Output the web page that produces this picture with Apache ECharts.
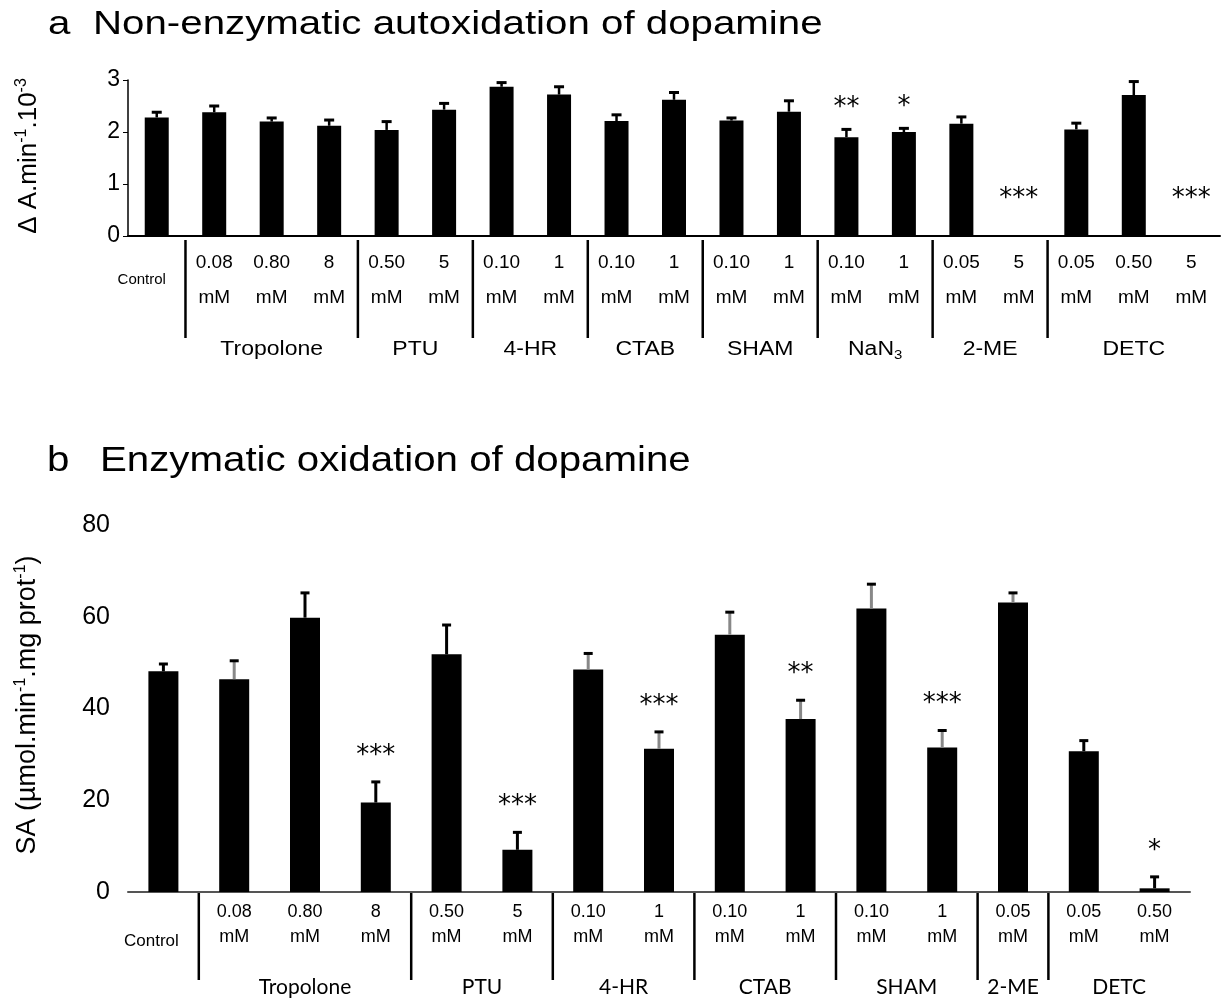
<!DOCTYPE html>
<html lang="en">
<head>
<meta charset="UTF-8">
<title>Oxidation of dopamine</title>
<script src="https://cdn.jsdelivr.net/npm/echarts@6/dist/echarts.min.js"></script>
<style>
  html, body { margin: 0; padding: 0; background: #fff; }
  #chart { width: 1224px; height: 1001px; }
</style>
</head>
<body>
<div id="chart"></div>
<script>
// ---- panel a: non-enzymatic autoxidation ----
var catA = ['Control', '0.08', '0.80', '8', '0.50', '5', '0.10', '1', '0.10', '1',
            '0.10', '1', '0.10', '1', '0.05', '5', '0.05', '0.50', '5'];
var valuesA = [2.28, 2.38, 2.20, 2.12, 2.04, 2.43, 2.87, 2.72, 2.21, 2.62,
               2.22, 2.39, 1.90, 2.00, 2.16, 0, 2.05, 2.71, 0];
var errA = [0.10, 0.12, 0.07, 0.11, 0.16, 0.12, 0.08, 0.15, 0.12, 0.14,
            0.05, 0.21, 0.15, 0.07, 0.13, 0, 0.12, 0.26, 0];
var sigA = ['', '', '', '', '', '', '', '', '', '', '', '', '**', '*', '', '***', '', '', '***'];
var groupNamesA = ['Tropolone', 'PTU', '4-HR', 'CTAB', 'SHAM', 'NaN3', '2-ME', 'DETC'];
var groupSizesA = [3, 2, 2, 2, 2, 2, 2, 3];
var ticksA = [0, 1, 2, 3];

// ---- panel b: enzymatic oxidation ----
var catB = ['Control', '0.08', '0.80', '8', '0.50', '5', '0.10', '1', '0.10', '1',
            '0.10', '1', '0.05', '0.05', '0.50'];
var valuesB = [48.1, 46.4, 59.8, 19.5, 51.8, 9.2, 48.5, 31.2, 56.1, 37.7,
               61.8, 31.5, 63.1, 30.7, 0.8];
var errB = [1.6, 4.0, 5.4, 4.5, 6.4, 3.8, 3.5, 3.7, 4.9, 4.1, 5.3, 3.7, 2.1, 2.3, 2.5];
var sigB = ['', '', '', '***', '', '***', '', '***', '', '**', '', '***', '', '', '*'];
var groupNamesB = ['Tropolone', 'PTU', '4-HR', 'CTAB', 'SHAM', '2-ME', 'DETC'];
var groupSizesB = [3, 2, 2, 2, 2, 1, 2];
var ticksB = [0, 20, 40, 60, 80];

var ARIAL = '"Liberation Sans", Arial, sans-serif';
var CALIBRI = 'Lato, "Open Sans", sans-serif';

var chart = echarts.init(document.getElementById('chart'));

// error bars + significance stars, drawn from the data arrays
function errorRenderer(errs, sigs, opt) {
    return function (params, api) {
        var i = params.dataIndex;
        var v = api.value(1), e = errs[i];
        var base = api.coord([api.value(0), v]);
        var top = api.coord([api.value(0), v + e]);
        var kids = [];
        if (e > 0) {
            var stemCol = opt.grayStems.indexOf(i) >= 0 ? '#888' : '#000';
            kids.push({ type: 'line', shape: { x1: base[0], y1: base[1], x2: top[0], y2: top[1] },
                        style: { stroke: stemCol, lineWidth: opt.stem } });
            kids.push({ type: 'line', shape: { x1: top[0] - opt.cap / 2, y1: top[1], x2: top[0] + opt.cap / 2, y2: top[1] },
                        style: { stroke: '#000', lineWidth: 3 } });
        }
        if (sigs[i]) {
            var gap = v === 0 ? opt.gapZero : opt.gap;
            kids.push({ type: 'text', x: top[0], y: top[1] - gap,
                        style: { text: sigs[i], font: '26px "DejaVu Sans", sans-serif', fill: '#000',
                                 align: 'center', verticalAlign: 'bottom' } });
        }
        return { type: 'group', children: kids };
    };
}

var option = {
    animation: false,
    backgroundColor: '#fff',
    grid: [
        { left: 128, right: 4, top: 80, height: 156 },
        { left: 128, right: 34, top: 525, height: 367 }
    ],
    xAxis: [
        {
            type: 'category', gridIndex: 0, data: catA,
            axisLine: { lineStyle: { color: '#000', width: 2 } },
            axisTick: { show: false },
            axisLabel: {
                interval: 0, margin: 9, color: '#000',
                formatter: function (val, idx) {
                    return idx === 0 ? '{c|Control}' : '{v|' + val + '}\n{v|mM}';
                },
                rich: {
                    v: { fontFamily: ARIAL, fontSize: 19, lineHeight: 35, color: '#000' },
                    c: { fontFamily: ARIAL, fontSize: 15, lineHeight: 70, color: '#000', padding: [0, 30, 0, 0] }
                }
            }
        },
        {
            type: 'category', gridIndex: 1, data: catB,
            axisLine: { lineStyle: { color: '#555', width: 2 } },
            axisTick: { show: false },
            axisLabel: {
                interval: 0, margin: 8, color: '#000',
                formatter: function (val, idx) {
                    return idx === 0 ? '{c|Control}' : '{v|' + val + '}\n{v|mM}';
                },
                rich: {
                    v: { fontFamily: ARIAL, fontSize: 18, lineHeight: 25, color: '#000' },
                    c: { fontFamily: ARIAL, fontSize: 17, lineHeight: 83, color: '#000', padding: [0, 24, 0, 0] }
                }
            }
        }
    ],
    yAxis: [
        {
            type: 'value', gridIndex: 0, min: ticksA[0], max: ticksA[ticksA.length - 1], interval: 1,
            axisLine: { show: true, lineStyle: { color: '#000', width: 1.5 } },
            axisTick: { show: true, length: 5, lineStyle: { color: '#000' } },
            splitLine: { show: false },
            axisLabel: { fontFamily: ARIAL, fontSize: 23, color: '#000', margin: 8 }
        },
        {
            type: 'value', gridIndex: 1, min: ticksB[0], max: ticksB[ticksB.length - 1], interval: 20,
            axisLine: { show: false },
            axisTick: { show: false },
            splitLine: { show: false },
            axisLabel: { fontFamily: ARIAL, fontSize: 25, color: '#000', margin: 18 }
        }
    ],
    series: [
        {
            type: 'bar', xAxisIndex: 0, yAxisIndex: 0, data: valuesA,
            barWidth: 24, itemStyle: { color: '#000' }
        },
        {
            type: 'custom', xAxisIndex: 0, yAxisIndex: 0,
            data: valuesA.map(function (v, i) { return [i, v]; }),
            encode: { x: 0, y: 1 }, z: 3,
            renderItem: errorRenderer(errA, sigA, { stem: 2.5, cap: 10, gap: 8, gapZero: 24, grayStems: [] })
        },
        {
            type: 'bar', xAxisIndex: 1, yAxisIndex: 1, data: valuesB,
            barWidth: 30, itemStyle: { color: '#000' }
        },
        {
            type: 'custom', xAxisIndex: 1, yAxisIndex: 1,
            data: valuesB.map(function (v, i) { return [i, v]; }),
            encode: { x: 0, y: 1 }, z: 3,
            renderItem: errorRenderer(errB, sigB, { stem: 3, cap: 9, gap: 13, gapZero: 13,
                                                    grayStems: [1, 6, 7, 8, 9, 10, 11, 12] })
        }
    ]
};
chart.setOption(option);

// group dividers and names under the concentration labels
function groupGraphics(axisIdx, names, sizes, lineY1, lineY2, nameY, font, scaleX) {
    var out = [];
    var start = 1;
    function px(i) { return chart.convertToPixel({ xAxisIndex: axisIdx }, i); }
    names.forEach(function (name, g) {
        var end = start + sizes[g] - 1;
        var left = (px(start - 1) + px(start)) / 2;
        out.push({ type: 'line', shape: { x1: left, y1: lineY1, x2: left, y2: lineY2 },
                   style: { stroke: '#000', lineWidth: 2.5 } });
        var cx = (px(start) + px(end)) / 2;
        var txt = name === 'NaN3' ? '{n|NaN}{s|3}' : '{n|' + name + '}';
        out.push({ type: 'text', x: cx, y: nameY, scaleX: scaleX,
                   style: { text: txt, align: 'center', verticalAlign: 'middle',
                            rich: { n: { font: font, fill: '#000', lineHeight: 26 },
                                    s: { fontFamily: ARIAL, fontSize: 13, fill: '#000',
                                         verticalAlign: 'bottom', lineHeight: 14 } } } });
        start = end + 1;
    });
    return out;
}

var graphics = [
    { type: 'text', x: 48, y: 25, scaleX: 1.22,
      style: { text: 'a', font: '33px ' + ARIAL, fill: '#000', verticalAlign: 'middle' } },
    { type: 'text', x: 93, y: 25, scaleX: 1.22,
      style: { text: 'Non-enzymatic autoxidation of dopamine', font: '33px ' + ARIAL, fill: '#000', verticalAlign: 'middle' } },
    { type: 'text', x: 47, y: 461, scaleX: 1.15,
      style: { text: 'b', font: '35px ' + ARIAL, fill: '#000', verticalAlign: 'middle' } },
    { type: 'text', x: 100, y: 461, scaleX: 1.15,
      style: { text: 'Enzymatic oxidation of dopamine', font: '35px ' + ARIAL, fill: '#000', verticalAlign: 'middle' } },
    { type: 'text', x: 29, y: 156, rotation: Math.PI / 2,
      style: { text: '{t|\u0394 A.min}{s|-1}{t|.10}{s|-3}', align: 'center', verticalAlign: 'middle',
               rich: { t: { fontFamily: ARIAL, fontSize: 26, fill: '#000', lineHeight: 30 },
                       s: { fontFamily: ARIAL, fontSize: 16, fill: '#000', verticalAlign: 'top', lineHeight: 16 } } } },
    { type: 'text', x: 28, y: 705, rotation: Math.PI / 2,
      style: { text: '{t|SA (\u00b5mol.min}{s|-1}{t|.mg prot}{s|-1}{t|)}', align: 'center', verticalAlign: 'middle',
               rich: { t: { fontFamily: ARIAL, fontSize: 27, fill: '#000', lineHeight: 31 },
                       s: { fontFamily: ARIAL, fontSize: 16, fill: '#000', verticalAlign: 'top', lineHeight: 16 } } } }
];
graphics = graphics
    .concat(groupGraphics(0, groupNamesA, groupSizesA, 240, 338, 349, '20px ' + ARIAL, 1.15))
    .concat(groupGraphics(1, groupNamesB, groupSizesB, 893, 980, 987, '21px ' + CALIBRI, 1));

chart.setOption({ graphic: graphics });
</script>
</body>
</html>
